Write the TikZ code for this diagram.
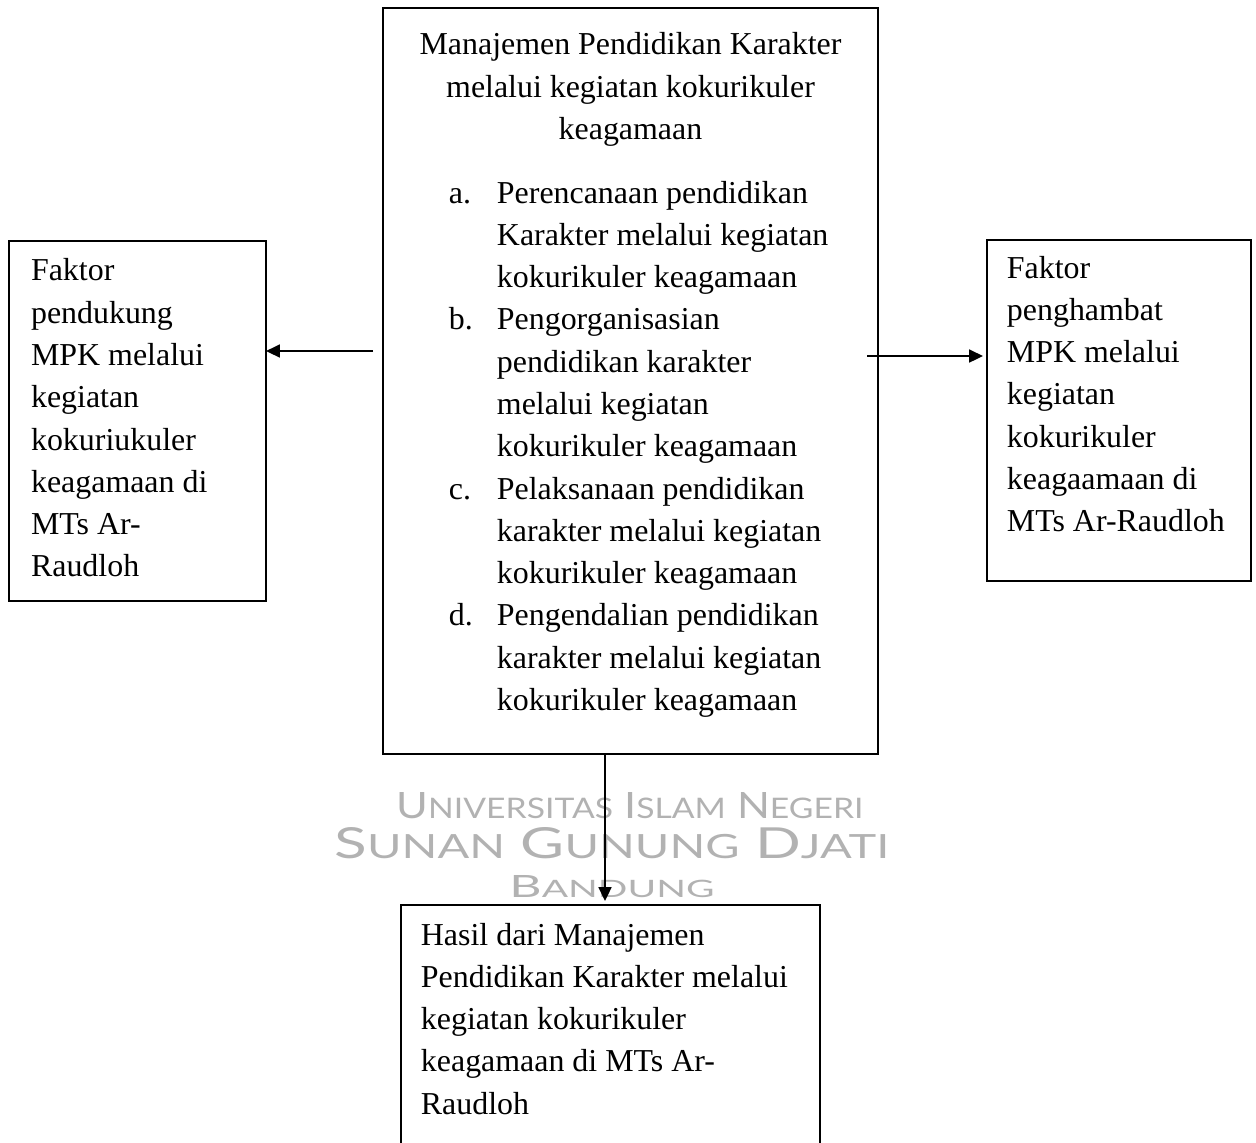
\documentclass[tikz,border=0pt]{standalone}
\usepackage{fontspec}
\setmainfont{Liberation Serif}
\newfontfamily\wmfont{Lato}
\usepackage{graphicx}
\usetikzlibrary{arrows.meta,positioning,calc}
\newdimen\px
\px=0.376pt
\newcommand\smc[1]{\scalebox{0.78}{#1}}

\begin{document}
\begin{tikzpicture}[x=\px,y=-\px,>={Triangle[length=5.2pt,width=4.8pt]},
  box/.style={draw,line width=0.75pt,anchor=north west,inner sep=0pt,outer sep=0pt},
  txt/.style={inner sep=0pt,outer sep=0pt,align=left,font=\fontsize{12}{15.9}\selectfont},
  wm/.style={anchor=base,inner sep=0pt,text=black!30,font=\wmfont}]
  \useasboundingbox (0,0) rectangle (1256,1142);
  \clip (0,0) rectangle (1256,1142);
  \node[wm] (wm1) at (630,818) {\resizebox{467\px}{26\px}{U\smc{NIVERSITAS} I\smc{SLAM} N\smc{EGERI}}};
  \node[wm] (wm2) at (612,858) {\resizebox{555\px}{31\px}{S\smc{UNAN} G\smc{UNUNG} D\smc{JATI}}};
  \node[wm] (wm3) at (612,897) {\resizebox{205\px}{22\px}{B\smc{ANDUNG}}};
  \node[box,minimum width=495\px,minimum height=746\px] (mpk) at (383,8) {};
  \node[box,minimum width=257\px,minimum height=360\px] (pendukung) at (9,241) {};
  \node[box,minimum width=264\px,minimum height=341\px] (penghambat) at (987,240) {};
  \node[box,minimum width=419\px,minimum height=300\px] (hasil) at (401,905) {};
  \node[txt,align=center,below=6.5pt of mpk.north] (judul) {\strut Manajemen Pendidikan Karakter\\melalui kegiatan kokurikuler\\keagamaan};
  \node[txt,below right=62.2pt and 24.8pt of mpk.north west] (tahap) {\begin{tabular}{@{}p{48\px}@{}l@{}}
    a. & Perencanaan pendidikan\\
       & Karakter melalui kegiatan\\
       & kokurikuler keagamaan\\
    b. & Pengorganisasian\\
       & pendidikan karakter\\
       & melalui kegiatan\\
       & kokurikuler keagamaan\\
    c. & Pelaksanaan pendidikan\\
       & karakter melalui kegiatan\\
       & kokurikuler keagamaan\\
    d. & Pengendalian pendidikan\\
       & karakter melalui kegiatan\\
       & kokurikuler keagamaan
  \end{tabular}};
  \node[txt,below right=3.9pt and 8.3pt of pendukung.north west] (pendukungtxt) {\strut Faktor\\pendukung\\MPK melalui\\kegiatan\\kokuriukuler\\keagamaan di\\MTs Ar-\\Raudloh};
  \node[txt,below right=3.2pt and 7.5pt of penghambat.north west] (penghambattxt) {\strut Faktor\\penghambat\\MPK melalui\\kegiatan\\kokurikuler\\keagaamaan di\\MTs Ar-Raudloh};
  \node[txt,below right=3.9pt and 7.5pt of hasil.north west] (hasiltxt) {\strut Hasil dari Manajemen\\Pendidikan Karakter melalui\\kegiatan kokurikuler\\keagamaan di MTs Ar-\\Raudloh};
  \coordinate (kiri) at (373,351);
  \coordinate (kanan) at (867,356);
  \coordinate (bawah) at (605,754);
  \draw[->,line width=0.9pt] (kiri) -- (kiri -| pendukung.east);
  \draw[->,line width=0.9pt,shorten >=1.5pt] (kanan) -- (kanan -| penghambat.west);
  \draw[->,line width=0.9pt,shorten >=1.5pt] (bawah) -- (bawah |- hasil.north);
\end{tikzpicture}
\end{document}
